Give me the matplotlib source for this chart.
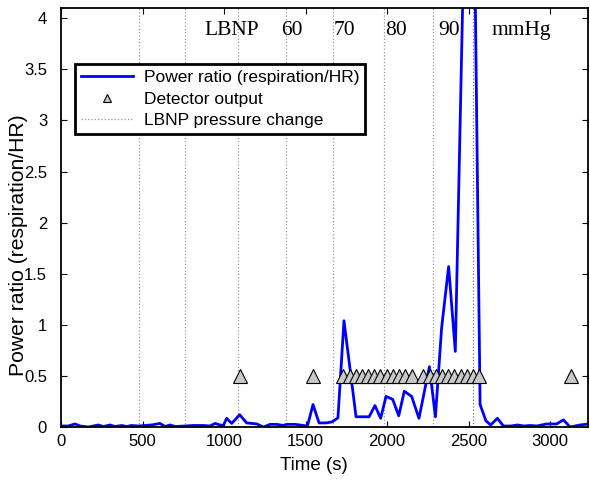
import numpy as np
import matplotlib
matplotlib.use("Agg")
import matplotlib.pyplot as plt
from matplotlib.ticker import MultipleLocator, FormatStrFormatter

plt.rcParams['font.family'] = ['Liberation Sans', 'DejaVu Sans']

# Power ratio (respiration/HR) over time
time_s = [4, 45, 86, 117, 168, 198, 229, 260, 301, 331, 372, 403, 433, 474, 515,
          556, 607, 638, 669, 699, 761, 812, 873, 914, 945, 975, 996, 1016, 1047,
          1096, 1139, 1201, 1242, 1283, 1324, 1364, 1385, 1436, 1487, 1512, 1546,
          1583, 1626, 1663, 1699, 1736, 1810, 1890, 1926, 1961, 1994, 2035, 2072,
          2106, 2151, 2196, 2260, 2297, 2335, 2378, 2419, 2514, 2571, 2607, 2636,
          2677, 2714, 2760, 2800, 2840, 2880, 2920, 2980, 3041, 3082, 3123, 3184, 3240]
power_ratio = [0.01, 0.01, 0.03, 0.01, 0.0, 0.01, 0.02, 0.005, 0.02, 0.005, 0.015,
               0.005, 0.015, 0.01, 0.015, 0.02, 0.035, 0.005, 0.02, 0.005, 0.01,
               0.015, 0.015, 0.01, 0.035, 0.02, 0.015, 0.085, 0.035, 0.12, 0.04,
               0.03, 0.0, 0.026, 0.026, 0.015, 0.026, 0.026, 0.015, 0.01, 0.22,
               0.04, 0.04, 0.05, 0.09, 1.04, 0.10, 0.10, 0.21, 0.085, 0.30, 0.27,
               0.11, 0.35, 0.30, 0.085, 0.59, 0.10, 0.97, 1.57, 0.74, 7.9, 0.22,
               0.06, 0.02, 0.085, 0.01, 0.01, 0.02, 0.01, 0.015, 0.01, 0.03, 0.03,
               0.07, 0.0, 0.02, 0.03]

# Detector output (times where detector fired, plotted at 0.5)
detect_times = [1098, 1549,
                1732, 1770, 1808, 1846, 1884, 1922, 1960, 1998, 2036, 2074, 2112, 2151,
                2223, 2261, 2299, 2337, 2375, 2413, 2451, 2489, 2527, 2564,
                3130]
detect_level = 0.5

# LBNP pressure change times
lbnp_times = [477, 761, 1083, 1383, 1668, 1981, 2281, 2529]

# Pressure level labels
lbnp_labels = ['LBNP', '60', '70', '80', '90', 'mmHg']
lbnp_label_x = [1047, 1417, 1736, 2055, 2380, 2825]

fig = plt.figure(figsize=(5.9, 4.8), dpi=100)
ax = fig.add_axes([0.1034, 0.1104, 0.8932, 0.8729])

for i, t in enumerate(lbnp_times):
    col = '#777777' if t == lbnp_times[-1] else '#999999'
    ax.axvline(t, color=col, linestyle=':', linewidth=0.9, zorder=1,
               label='LBNP pressure change' if i == 0 else None)

ax.plot(time_s, power_ratio, color='#0000ff', linewidth=2.0, zorder=2,
        label='Power ratio (respiration/HR)')
ax.plot(detect_times, [detect_level] * len(detect_times), linestyle='none',
        marker='^', markersize=10, markerfacecolor='#c8c8c8',
        markeredgecolor='black', markeredgewidth=0.8, zorder=3,
        label='Detector output')

for lab, x in zip(lbnp_labels, lbnp_label_x):
    ax.text(x, 3.88, lab, family=['Liberation Serif', 'DejaVu Serif'],
            fontsize=15.5, ha='center', va='center', zorder=4)

ax.set_xlim(0, 3233)
ax.set_ylim(0, 4.1)
ax.xaxis.set_major_locator(MultipleLocator(500))
ax.yaxis.set_major_locator(MultipleLocator(0.5))
ax.yaxis.set_major_formatter(FormatStrFormatter('%g'))
ax.tick_params(direction='in', top=True, right=True, labelsize=12, length=4)
ax.tick_params(axis='y', pad=10)
ax.tick_params(axis='x', pad=5)
for s in ax.spines.values():
    s.set_linewidth(1.3)

ax.set_xlabel('Time (s)', fontsize=13.5)
ax.xaxis.set_label_coords(0.479, -0.072)
ax.set_ylabel('Power ratio (respiration/HR)', fontsize=15.2, va='center')
ax.yaxis.set_label_coords(-0.08, 0.434)

handles, labels = ax.get_legend_handles_labels()
order = [labels.index('Power ratio (respiration/HR)'),
         labels.index('Detector output'),
         labels.index('LBNP pressure change')]
leg = ax.legend([handles[i] for i in order], [labels[i] for i in order],
                loc='upper left', bbox_to_anchor=(0.027, 0.866), borderaxespad=0,
                fontsize=12.5, fancybox=False, framealpha=1, edgecolor='black',
                handlelength=3.0, labelspacing=0.35, borderpad=0.35,
                handletextpad=0.6, markerscale=0.6)
leg.get_frame().set_linewidth(2)

fig.savefig('out.png', dpi=100)
